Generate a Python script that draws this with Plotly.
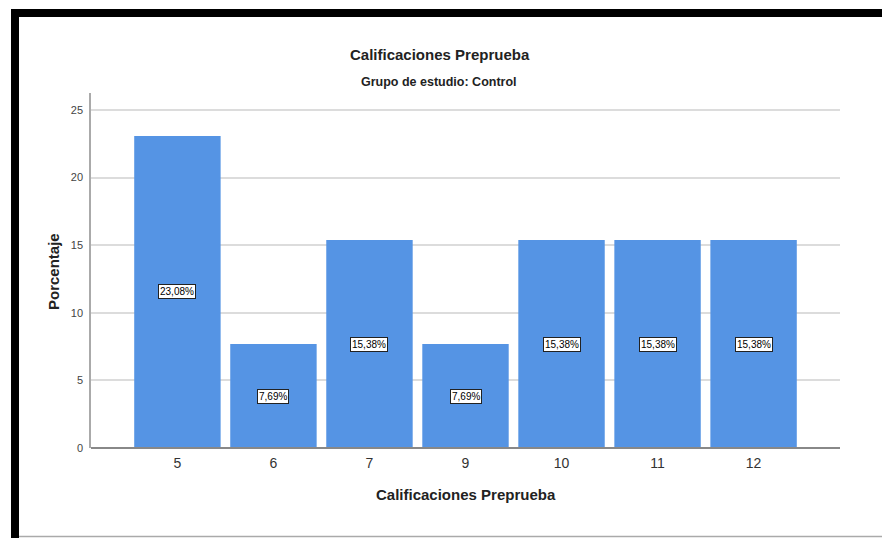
import plotly.graph_objects as go

categories = ["5", "6", "7", "9", "10", "11", "12"]
percentages = [23.08, 7.69, 15.38, 7.69, 15.38, 15.38, 15.38]
labels = ["23,08%", "7,69%", "15,38%", "7,69%", "15,38%", "15,38%", "15,38%"]
y_ticks = [0, 5, 10, 15, 20, 25]

# page body adds an 8px offset; work in page pixel coordinates
OFF = 8
W, H = 890 - OFF, 538 - OFF
L, R, T, B = 91 - OFF, 50, 93 - OFF, 90
pw, ph = W - L - R, H - T - B

def px(x):
    return (x - OFF - L) / pw

def py(y):
    return (H - B - (y - OFF)) / ph

FONT = "Liberation Sans, Arial, sans-serif"

fig = go.Figure()
fig.add_trace(go.Bar(
    x=categories, y=percentages, width=0.9,
    marker=dict(color="#5594E4", line=dict(width=0)),
    hoverinfo="skip",
))

annotations = []
for i, (v, t) in enumerate(zip(percentages, labels)):
    annotations.append(dict(
        x=i, y=v / 2, xref="x", yref="y", text=t, showarrow=False,
        font=dict(family=FONT, size=10, color="#000"),
        bgcolor="white", bordercolor="#222", borderwidth=1, borderpad=1,
    ))

annotations += [
    dict(x=px(440), y=py(55), xref="paper", yref="paper", text="<b>Calificaciones Preprueba</b>",
         showarrow=False, font=dict(family=FONT, size=15, color="#222"),
         xanchor="center", yanchor="middle"),
    dict(x=px(439), y=py(82), xref="paper", yref="paper", text="<b>Grupo de estudio: Control</b>",
         showarrow=False, font=dict(family=FONT, size=12.5, color="#222"),
         xanchor="center", yanchor="middle"),
    dict(x=px(466), y=py(494), xref="paper", yref="paper", text="<b>Calificaciones Preprueba</b>",
         showarrow=False, font=dict(family=FONT, size=15, color="#222"),
         xanchor="center", yanchor="middle"),
    dict(x=px(53), y=py(272), xref="paper", yref="paper", text="<b>Porcentaje</b>",
         showarrow=False, textangle=-90, font=dict(family=FONT, size=15, color="#222"),
         xanchor="center", yanchor="middle"),
]

shapes = [
    dict(type="rect", xref="paper", yref="paper", x0=px(11), x1=px(890), y0=py(17), y1=py(9),
         fillcolor="black", line=dict(width=0), layer="above"),
    dict(type="rect", xref="paper", yref="paper", x0=px(11), x1=px(19), y0=py(538), y1=py(9),
         fillcolor="black", line=dict(width=0), layer="above"),
    dict(type="line", xref="paper", yref="paper", x0=px(887.5), x1=px(887.5), y0=py(538), y1=py(17),
         line=dict(color="#cccccc", width=1)),
    dict(type="line", xref="paper", yref="paper", x0=px(19), x1=px(890), y0=py(536.5), y1=py(536.5),
         line=dict(color="#aaaaaa", width=1.5)),
    dict(type="line", xref="paper", yref="paper", x0=0, x1=1, y0=0, y1=0,
         line=dict(color="#888888", width=2), layer="above"),
]

fig.update_layout(
    width=W, height=H,
    margin=dict(l=L, r=R, t=T, b=B),
    paper_bgcolor="white", plot_bgcolor="white",
    showlegend=False,
    annotations=annotations, shapes=shapes,
    xaxis=dict(type="category", range=[-0.9, 6.9], showgrid=False, showline=False,
               ticks="outside", ticklen=2, tickcolor="rgba(0,0,0,0)",
               tickfont=dict(family=FONT, size=14, color="#333"), zeroline=False),
    yaxis=dict(range=[0, 26.26], tickvals=y_ticks, showgrid=True, gridcolor="#dcdcdc",
               gridwidth=1.5, showline=True, linecolor="#aaaaaa", linewidth=1.5,
               ticks="outside", ticklen=4, tickcolor="rgba(0,0,0,0)",
               tickfont=dict(family=FONT, size=11, color="#444"), zeroline=False),
    bargap=0.1,
)

fig.write_html("out.html")
